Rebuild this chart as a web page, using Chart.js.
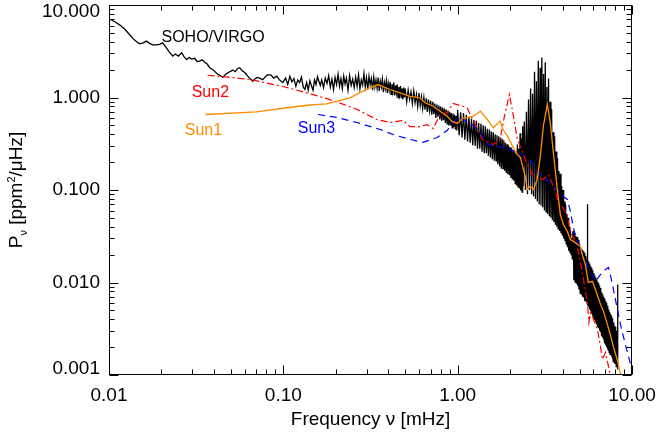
<!DOCTYPE html>
<html>
<head>
<meta charset="utf-8">
<script src="https://cdn.jsdelivr.net/npm/chart.js@4.4.1/dist/chart.umd.min.js"></script>
<style>
  html, body { margin: 0; padding: 0; background: #fff; }
  #wrap { width: 658px; height: 434px; }
</style>
</head>
<body>
<div id="wrap"><canvas id="spectrum" width="658" height="434"></canvas></div>
<script>
// tick labels (decades only)
const xTicks = [0.01, 0.1, 1, 10];
const yTicks = [0.001, 0.01, 0.1, 1, 10];

// SOHO/VIRGO power spectrum [frequency mHz, power ppm^2/uHz]
const virgo = [
  [0.0100,7.1],[0.0108,6.6],[0.0115,6.1],[0.0123,5.5],[0.0131,4.8],[0.0138,4.3],[0.0144,4.0],[0.0150,3.8],
  [0.0157,3.9],[0.0164,4.07],[0.0171,3.85],[0.0178,3.7],[0.0187,3.7],[0.0195,3.75],[0.0203,3.9],[0.0212,3.5],
  [0.0222,3.1],[0.0232,2.8],[0.0240,2.95],[0.0250,2.8],[0.0261,3.05],[0.0270,2.75],[0.0279,2.57],[0.0289,2.7],
  [0.0298,2.6],[0.0310,2.65],[0.0320,2.45],[0.0331,2.47],[0.0342,2.55],[0.0354,2.4],[0.0366,2.3],[0.0378,2.1],
  [0.0395,2.0],[0.0415,1.82],[0.0430,1.75],[0.0449,1.65],[0.0470,1.8],[0.0493,1.9],[0.0513,1.98],[0.0530,1.9],
  [0.0545,2.05],[0.0562,2.1],[0.0580,1.95],[0.0601,1.86],[0.0625,1.7],[0.0645,1.6],[0.0668,1.5],[0.0690,1.6],
  [0.0705,1.65],[0.0730,1.62],[0.0762,1.56],[0.0790,1.68],[0.0815,1.77],[0.0850,1.75],[0.0880,1.62],[0.0918,1.7],
  [0.0950,1.55],[0.0994,1.45],
  [0.103,1.62],[0.106,1.38],[0.109,1.70],[0.112,1.48],[0.115,1.60],[0.118,1.32],[0.121,1.55],[0.124,1.45],
  [0.127,1.66],[0.130,1.30],[0.133,1.22],[0.136,1.45],[0.139,1.20],[0.142,1.52],[0.145,1.34],[0.148,1.20],
  [0.151,1.55],[0.154,1.38],[0.157,1.68],[0.160,1.50],[0.163,1.35],[0.166,1.55],[0.170,1.28],[0.174,1.62],
  [0.178,1.42],[0.182,1.72],[0.186,1.30],[0.190,1.58],[0.194,1.22],[0.198,1.65],[0.202,1.38],[0.206,1.78],
  [0.210,1.32],[0.214,1.60],[0.218,1.25],[0.222,1.70],[0.226,1.40],[0.230,1.62],[0.235,1.20],[0.240,1.72],
  [0.245,1.35],[0.250,1.58],[0.255,1.28],[0.260,1.66],[0.265,1.32],[0.270,1.75],[0.275,1.24],[0.280,1.55],
  [0.285,1.36],[0.290,1.82],[0.295,1.30],[0.300,1.64],[0.305,1.22],[0.310,1.70],[0.315,1.38],[0.320,1.60],
  [0.325,1.20],[0.330,1.66],[0.335,1.30],[0.340,1.55],[0.345,1.26],[0.350,1.64],[0.355,1.18],[0.360,1.50],
  [0.365,1.30],[0.370,1.58],[0.375,1.14],[0.380,1.45],[0.385,1.25],[0.390,1.52],[0.395,1.12],[0.400,1.42],
  [0.405,1.20],[0.410,1.48],[0.415,1.08],[0.420,1.40],[0.425,1.16],[0.430,1.45],[0.435,1.05],[0.440,1.35],
  [0.445,1.12],[0.450,1.38],[0.455,1.00],[0.460,1.30],[0.465,1.08],[0.470,1.33],[0.475,0.98],[0.480,1.25],
  [0.485,0.95],[0.490,1.28],[0.495,1.00],
  [0.50,1.25],[0.51,0.90],[0.52,1.20],[0.53,0.95],[0.54,1.15],[0.55,0.86],[0.56,1.18],[0.57,0.88],
  [0.58,1.08],[0.59,0.80],[0.60,1.12],[0.61,0.82],[0.62,1.02],[0.63,0.76],[0.64,1.00],[0.65,0.74],
  [0.66,0.98],[0.67,0.70],[0.68,0.95],[0.69,0.72],[0.70,0.92],[0.71,0.65],[0.72,0.90],[0.73,0.66],
  [0.74,0.86],[0.75,0.60],[0.76,0.84],[0.77,0.62],[0.78,0.82],[0.79,0.58],[0.80,0.80],[0.81,0.56],
  [0.82,0.78],[0.83,0.57],[0.84,0.76],[0.85,0.53],[0.86,0.74],[0.87,0.52],[0.88,0.72],[0.89,0.50],
  [0.90,0.70],[0.91,0.50],[0.92,0.68],[0.93,0.47],[0.94,0.67],[0.95,0.48],[0.96,0.65],[0.97,0.45],
  [0.98,0.63],[0.99,0.44],
  [1.00,0.73],[1.02,0.39],[1.04,0.69],[1.06,0.37],[1.08,0.68],[1.10,0.35],[1.12,0.65],[1.14,0.335],
  [1.16,0.62],[1.18,0.325],[1.20,0.59],[1.22,0.305],[1.24,0.57],[1.26,0.30],[1.28,0.56],[1.30,0.28],
  [1.32,0.53],[1.34,0.28],[1.36,0.52],[1.38,0.26],[1.40,0.50],[1.42,0.25],[1.44,0.49],[1.46,0.25],
  [1.48,0.46],[1.50,0.235],[1.52,0.45],[1.54,0.225],[1.56,0.43],[1.58,0.215],[1.60,0.42],[1.62,0.207],
  [1.64,0.40],[1.66,0.207],[1.68,0.39],[1.70,0.19],[1.72,0.38],[1.74,0.18],[1.76,0.37],[1.78,0.17],
  [1.80,0.36],[1.82,0.17],[1.84,0.345],[1.86,0.162],[1.88,0.325],[1.90,0.153],[1.92,0.313],[1.94,0.148],
  [1.96,0.30],[1.98,0.144],[2.00,0.29],[2.02,0.135],[2.04,0.28],[2.06,0.13],[2.08,0.27],[2.10,0.126],
  [2.12,0.26],[2.14,0.117],[2.16,0.25],[2.18,0.112],[2.20,0.31],[2.22,0.108],[2.24,0.28],[2.26,0.104],
  [2.28,0.41],[2.30,0.099],[2.32,0.36],[2.34,0.095],[2.36,0.49],
  [2.375,0.11],[2.410,0.55],[2.445,0.10],[2.480,0.70],[2.515,0.09],[2.550,0.95],[2.585,0.10],[2.620,1.25],
  [2.655,0.09],[2.690,1.10],[2.725,0.085],[2.760,1.9],[2.795,0.08],[2.830,1.5],[2.865,0.075],[2.900,2.5],
  [2.935,0.07],[2.970,2.1],[3.005,0.068],[3.040,2.7],[3.075,0.065],[3.110,1.8],[3.145,0.06],[3.180,2.4],
  [3.215,0.058],[3.250,1.3],[3.285,0.055],[3.320,1.6],[3.355,0.052],[3.390,0.9],[3.425,0.05],[3.460,0.75],
  [3.495,0.047],[3.530,0.42],[3.565,0.045],[3.600,0.38],[3.635,0.042],[3.670,0.26],[3.705,0.04],[3.740,0.22],
  [3.775,0.038],[3.810,0.16],[3.845,0.036],[3.880,0.15],[3.915,0.034],[3.950,0.11],[3.985,0.032],[4.020,0.10],
  [4.055,0.03],[4.090,0.075],[4.125,0.028],[4.160,0.07],[4.195,0.026],[4.230,0.055],[4.265,0.024],[4.300,0.05],
  [4.335,0.022],[4.370,0.04],[4.405,0.021],[4.440,0.036],[4.475,0.02],[4.510,0.03],[4.545,0.018],[4.575,0.034],
  [4.60,0.036],[4.64,0.0106],[4.68,0.034],[4.72,0.0101],[4.76,0.032],[4.80,0.0097],[4.84,0.031],[4.88,0.0092],
  [4.92,0.029],[4.96,0.0084],[5.00,0.026],[5.04,0.0077],[5.08,0.024],[5.12,0.0075],[5.16,0.023],[5.20,0.0070],
  [5.24,0.022],[5.28,0.0069],[5.32,0.021],[5.36,0.0063],[5.40,0.0195],[5.44,0.0062],[5.48,0.018],[5.52,0.0060],
  [5.55,0.070],[5.57,0.0058],[5.60,0.017],[5.64,0.0055],[5.68,0.016],[5.72,0.0051],[5.76,0.015],[5.80,0.0049],
  [5.84,0.0144],[5.88,0.0046],[5.92,0.0136],[5.96,0.0043],[6.00,0.0127],[6.04,0.0041],[6.08,0.012],[6.12,0.0039],
  [6.16,0.0113],[6.20,0.0037],[6.24,0.0108],[6.28,0.0035],[6.32,0.0102],[6.36,0.0033],[6.40,0.0098],[6.44,0.0032],
  [6.48,0.0092],[6.52,0.0030],[6.56,0.0087],[6.60,0.0029],[6.64,0.0083],[6.68,0.0027],[6.72,0.0078],[6.76,0.0026],
  [6.80,0.0074],[6.84,0.0025],[6.88,0.0070],[6.92,0.0024],[6.96,0.0067],[7.00,0.0022],[7.04,0.0063],[7.08,0.0021],
  [7.12,0.0060],[7.16,0.0020],[7.20,0.0056],[7.24,0.0019],[7.28,0.0054],[7.32,0.00185],[7.36,0.0051],[7.40,0.00176],
  [7.44,0.0048],[7.48,0.00167],[7.52,0.0046],[7.56,0.00167],[7.60,0.0044],[7.64,0.00158],[7.68,0.0041],[7.72,0.0015],
  [7.76,0.0039],[7.80,0.0014],[7.84,0.0037],[7.88,0.0014],[7.92,0.0034],[7.96,0.00132],[8.00,0.0033],[8.04,0.00132],
  [8.08,0.0031],[8.12,0.00123],[8.16,0.0030],[8.20,0.00123],[8.24,0.0028],[8.27,0.00115],[8.28,0.0095],[8.29,0.00115]
];

const sun1 = [
  [0.0357,0.655],[0.0701,0.70],[0.105,0.775],[0.142,0.83],[0.177,0.855],[0.241,0.99],[0.286,1.17],[0.349,1.38],
  [0.409,1.22],[0.467,1.12],[0.533,1.03],[0.608,0.99],[0.650,0.877],[0.723,0.805],[0.793,0.711],[0.871,0.628],
  [0.929,0.551],[0.993,0.524],[1.07,0.60],[1.13,0.604],[1.23,0.628],[1.35,0.711],[1.48,0.578],[1.60,0.47],
  [1.75,0.555],[1.82,0.451],[1.95,0.37],[2.06,0.298],[2.20,0.242],[2.29,0.225],[2.44,0.14],[2.51,0.101],
  [2.61,0.11],[2.72,0.101],[2.86,0.13],[2.98,0.232],[3.10,0.49],[3.27,0.84],[3.40,0.532],[3.54,0.253],
  [3.73,0.101],[3.88,0.0543],[4.04,0.0424],[4.26,0.0356],[4.43,0.0292],[4.73,0.027],[5.06,0.0245],[5.20,0.0196],
  [5.40,0.0157],[5.62,0.010],[5.93,0.0103],[6.17,0.0084],[6.60,0.0058],[6.86,0.0049],[7.23,0.0035],[7.52,0.0027],
  [7.83,0.0020],[8.28,0.0014],[8.59,0.00101]
];

const sun2 = [
  [0.0368,1.74],[0.0643,1.57],[0.102,1.30],[0.142,1.10],[0.185,0.95],[0.258,0.76],[0.344,0.578],[0.409,0.537],
  [0.449,0.551],[0.486,0.564],[0.533,0.485],[0.608,0.485],[0.668,0.51],[0.723,0.462],[0.793,0.655],[0.871,0.689],
  [0.942,0.861],[1.03,0.82],[1.13,0.78],[1.18,0.655],[1.29,0.474],[1.38,0.352],[1.50,0.327],[1.60,0.31],
  [1.75,0.352],[1.85,0.608],[1.98,1.08],[2.08,0.655],[2.20,0.352],[2.35,0.26],[2.51,0.189],[2.68,0.147],
  [2.86,0.137],[3.10,0.13],[3.31,0.147],[3.45,0.124],[3.63,0.096],[3.78,0.073],[3.99,0.066],[4.26,0.052],
  [4.43,0.035],[4.61,0.031],[4.86,0.0245],[5.06,0.0164],[5.26,0.0108],[5.40,0.0084],[5.55,0.0061],[5.66,0.0037],
  [5.77,0.0047],[6.01,0.0040],[6.34,0.0031],[6.60,0.0020],[6.77,0.00147],[7.04,0.00175],[7.33,0.00124],[7.52,0.00096]
];

const sun3 = [
  [0.158,0.655],[0.203,0.608],[0.264,0.537],[0.359,0.451],[0.426,0.398],[0.533,0.352],[0.634,0.327],[0.762,0.37],
  [0.871,0.44],[0.942,0.551],[1.03,0.608],[1.13,0.551],[1.23,0.498],[1.35,0.408],[1.48,0.318],[1.60,0.295],
  [1.75,0.295],[2.00,0.274],[2.29,0.248],[2.61,0.209],[2.86,0.163],[3.10,0.137],[3.40,0.12],[3.73,0.099],
  [4.04,0.085],[4.26,0.079],[4.43,0.059],[4.61,0.039],[4.86,0.0277],[5.26,0.0186],[5.77,0.0131],[6.17,0.0103],
  [6.60,0.0122],[7.04,0.0138],[7.33,0.0145],[7.62,0.0108],[8.04,0.0065],[8.59,0.0035],[9.18,0.0021],[9.93,0.0012]
];

// in-plot labels, placed in data coordinates
const curveLabels = [
  { text: "SOHO/VIRGO", x: 0.020, y: 4.45, color: "#000000" },
  { text: "Sun2", x: 0.0298, y: 1.13, color: "#ff0000" },
  { text: "Sun1", x: 0.0272, y: 0.44, color: "#ff8c00" },
  { text: "Sun3", x: 0.121, y: 0.462, color: "#0000ff" },
];

const FONT = "'Liberation Sans', Arial, Helvetica, sans-serif";
Chart.defaults.font.family = FONT;
Chart.defaults.color = "#000";

const toXY = (arr) => arr.map((p) => ({ x: p[0], y: p[1] }));

// box with inward ticks on all four sides (IDL style)
const framePlugin = {
  id: "frame",
  afterDatasetsDraw(chart) {
    const { ctx, chartArea: a, scales } = chart;
    const L = Math.round(a.left) + 0.5, R = Math.round(a.right) - 0.5;
    const T = Math.round(a.top) + 0.5, B = Math.round(a.bottom) - 0.5;
    ctx.save();
    ctx.strokeStyle = "#000";
    ctx.lineWidth = 1;
    ctx.strokeRect(L, T, R - L, B - T);
    ctx.beginPath();
    xTicks.forEach((d) => {
      for (let k = 1; k <= 9; k++) {
        const v = d * k;
        if (v > 10.0001) break;
        const px = Math.round(scales.x.getPixelForValue(v)) + 0.5;
        const len = k === 1 ? 9 : 5;
        ctx.moveTo(px, B); ctx.lineTo(px, B - len);
        ctx.moveTo(px, T); ctx.lineTo(px, T + len);
      }
    });
    yTicks.forEach((d) => {
      for (let k = 1; k <= 9; k++) {
        const v = d * k;
        if (v > 10.0001) break;
        const py = Math.round(scales.y.getPixelForValue(v)) + 0.5;
        const len = k === 1 ? 9 : 5;
        ctx.moveTo(L, py); ctx.lineTo(L + len, py);
        ctx.moveTo(R, py); ctx.lineTo(R - len, py);
      }
    });
    ctx.stroke();

    // y tick labels, end ones kept inside the axis span like IDL does
    ctx.font = "19px " + FONT;
    ctx.fillStyle = "#000";
    ctx.textAlign = "right";
    ctx.textBaseline = "middle";
    yTicks.forEach((v) => {
      let py = scales.y.getPixelForValue(v);
      py = Math.min(Math.max(py, a.top + 7), a.bottom - 6);
      ctx.fillText(v.toFixed(3), a.left - 9, py);
    });

    // curve labels
    ctx.font = "16px " + FONT;
    ctx.textAlign = "left";
    curveLabels.forEach((l) => {
      ctx.fillStyle = l.color;
      ctx.fillText(l.text, scales.x.getPixelForValue(l.x), scales.y.getPixelForValue(l.y));
    });

    // y axis title with subscript nu and superscript 2
    const parts = [
      { t: "P", size: 19, dy: 0 },
      { t: "ν", size: 11, dy: 5 },
      { t: " [ppm", size: 19, dy: 0 },
      { t: "2", size: 11, dy: -7 },
      { t: "/μHz]", size: 19, dy: 0 },
    ];
    let total = 0;
    parts.forEach((p) => { ctx.font = p.size + "px " + FONT; p.w = ctx.measureText(p.t).width; total += p.w; });
    ctx.translate(15, (a.top + a.bottom) / 2);
    ctx.rotate(-Math.PI / 2);
    ctx.fillStyle = "#000";
    ctx.textBaseline = "alphabetic";
    let cx = -total / 2;
    parts.forEach((p) => {
      ctx.font = p.size + "px " + FONT;
      ctx.fillText(p.t, cx, 7 + p.dy);
      cx += p.w;
    });
    ctx.restore();
  },
};

const line = (data, color, width, dash, order) => ({
  data: toXY(data),
  borderColor: color,
  borderWidth: width,
  borderDash: dash,
  pointRadius: 0,
  tension: 0,
  fill: false,
  order: order,
});

new Chart(document.getElementById("spectrum"), {
  type: "line",
  data: {
    datasets: [
      line(virgo, "#000000", 1.3, [], 4),
      line(sun2, "#ff0000", 1.2, [7, 3, 2, 3], 2),
      line(sun3, "#0000ff", 1.2, [7, 5], 3),
      line(sun1, "#ff8c00", 1.3, [], 1),
    ],
  },
  options: {
    responsive: false,
    animation: false,
    events: [],
    layout: { padding: { top: 5, right: 26, left: 0, bottom: 0 } },
    plugins: { legend: { display: false }, tooltip: { enabled: false } },
    scales: {
      x: {
        type: "logarithmic",
        min: 0.01,
        max: 10,
        grid: { display: false, drawTicks: false },
        border: { display: false },
        afterFit: (s) => { s.height = 59; s.paddingLeft = 0; s.paddingRight = 0; },
        afterBuildTicks: (s) => { s.ticks = xTicks.map((v) => ({ value: v })); },
        ticks: {
          font: { size: 19 },
          color: "#000",
          padding: 9,
          maxRotation: 0,
          autoSkip: false,
          callback: (v) => Number(v).toFixed(2),
        },
        title: {
          display: true,
          text: "Frequency ν [mHz]",
          font: { size: 19 },
          color: "#000",
          padding: { top: 0, bottom: 3 },
        },
      },
      y: {
        type: "logarithmic",
        min: 0.001,
        max: 10,
        grid: { display: false, drawTicks: false },
        border: { display: false },
        afterFit: (s) => { s.width = 109; s.paddingTop = 0; s.paddingBottom = 0; },
        afterBuildTicks: (s) => { s.ticks = yTicks.map((v) => ({ value: v })); },
        ticks: { display: false },
      },
    },
  },
  plugins: [framePlugin],
});
</script>
</body>
</html>
